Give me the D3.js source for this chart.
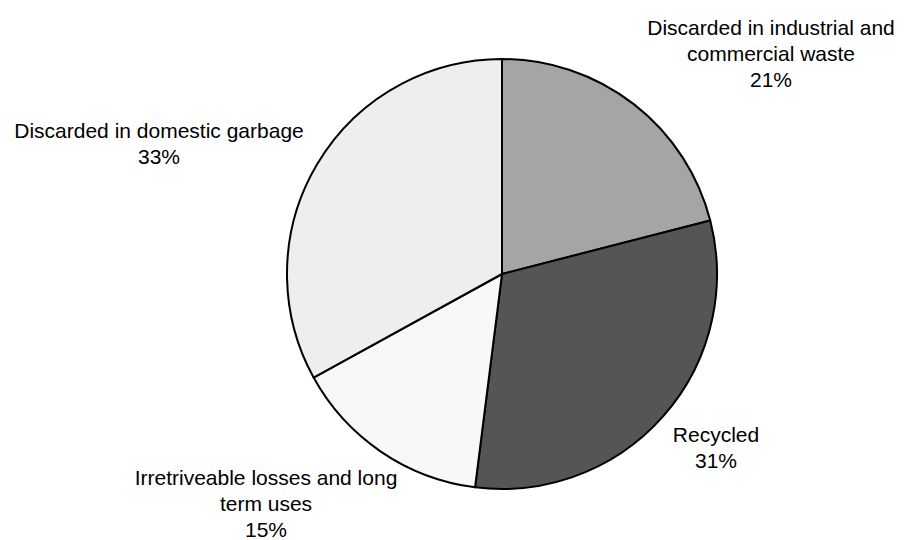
<!DOCTYPE html>
<html>
<head>
<meta charset="utf-8">
<script src="https://cdn.jsdelivr.net/npm/d3@7"></script>
<style>
  body { margin: 0; background: #fff; }
  svg text { font-family: "Liberation Sans", Arial, sans-serif; fill: #000; }
</style>
</head>
<body>
<div id="chart"></div>
<script>
// slice data, clockwise from 12 o'clock
var categories = ["Discarded in industrial and commercial waste", "Recycled", "Irretriveable losses and long term uses", "Discarded in domestic garbage"];
var labelLines = [["Discarded in industrial and", "commercial waste"], ["Recycled"], ["Irretriveable losses and long", "term uses"], ["Discarded in domestic garbage"]];
var shares = [21, 31, 15, 33];
var fills = ["#a5a5a5", "#555555", "#f8f8f8", "#eeeeee"];

// label block centres, offset from the pie centre (manual placement as in the source)
var labelOffsets = [[269, -220], [214, 174], [-236, 230], [-343, -130]];

var width = 904, height = 540;
var cx = 502, cy = 274, radius = 215;
var lineH = 26;

var svg = d3.select("#chart").append("svg")
    .attr("width", width)
    .attr("height", height);

var g = svg.append("g")
    .attr("transform", "translate(" + cx + "," + cy + ")");

var data = categories.map(function(c, i) {
  return {name: c, value: shares[i], lines: labelLines[i], fill: fills[i], off: labelOffsets[i]};
});

var pie = d3.pie()
    .sort(null)
    .value(function(d) { return d.value; });

var arc = d3.arc()
    .innerRadius(0)
    .outerRadius(radius);

g.selectAll("path.slice")
  .data(pie(data))
  .enter().append("path")
    .attr("class", "slice")
    .attr("d", arc)
    .attr("fill", function(d) { return d.data.fill; })
    .attr("stroke", "#000")
    .attr("stroke-width", 2)
    .attr("stroke-linejoin", "round");

// labels: name lines + percentage
var labels = g.selectAll("text.lbl")
  .data(pie(data))
  .enter().append("text")
    .attr("class", "lbl")
    .attr("text-anchor", "middle")
    .attr("font-size", 21);

labels.each(function(d) {
  var t = d3.select(this);
  var lines = d.data.lines.concat([d.data.value + "%"]);
  var top = d.data.off[1] - (lines.length - 1) * lineH / 2 + 7;
  lines.forEach(function(s, k) {
    t.append("tspan")
      .attr("x", d.data.off[0])
      .attr("y", top + k * lineH)
      .text(s);
  });
});
</script>
</body>
</html>
